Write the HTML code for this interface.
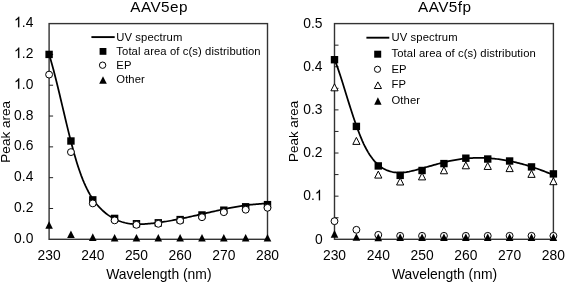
<!DOCTYPE html>
<html><head><meta charset="utf-8"><style>
html,body{margin:0;padding:0;background:#fff;width:565px;height:283px;overflow:hidden}
svg{display:block;will-change:transform}
text{fill:#000}
</style></head><body>
<svg width="565" height="283" viewBox="0 0 565 283">
<rect width="565" height="283" fill="#fff"/>
<rect x="49.1" y="23.6" width="218.40" height="215.70" fill="none" stroke="#333" stroke-width="1.4"/>
<line x1="49.1" y1="208.49" x2="53.1" y2="208.49" stroke="#222" stroke-width="1.0"/>
<line x1="49.1" y1="177.67" x2="53.1" y2="177.67" stroke="#222" stroke-width="1.0"/>
<line x1="49.1" y1="146.86" x2="53.1" y2="146.86" stroke="#222" stroke-width="1.0"/>
<line x1="49.1" y1="116.04" x2="53.1" y2="116.04" stroke="#222" stroke-width="1.0"/>
<line x1="49.1" y1="85.23" x2="53.1" y2="85.23" stroke="#222" stroke-width="1.0"/>
<line x1="49.1" y1="54.41" x2="53.1" y2="54.41" stroke="#222" stroke-width="1.0"/>
<text transform="translate(14.12,242.90) scale(0.95,1)" font-size="14.6" font-family="Liberation Sans, sans-serif">0.0</text>
<text transform="translate(14.12,212.09) scale(0.95,1)" font-size="14.6" font-family="Liberation Sans, sans-serif">0.2</text>
<text transform="translate(14.12,181.27) scale(0.95,1)" font-size="14.6" font-family="Liberation Sans, sans-serif">0.4</text>
<text transform="translate(14.12,150.46) scale(0.95,1)" font-size="14.6" font-family="Liberation Sans, sans-serif">0.6</text>
<text transform="translate(14.12,119.64) scale(0.95,1)" font-size="14.6" font-family="Liberation Sans, sans-serif">0.8</text>
<path transform="translate(14.12,88.83) scale(13.870,14.600)" d="M0.3726,0 L0.2847,0 L0.2847,-0.560 Q0.20,-0.49 0.1089,-0.454 L0.1089,-0.539 Q0.1826,-0.5737 0.2378,-0.623 Q0.293,-0.6724 0.3159,-0.7188 L0.3726,-0.7188 Z" fill="#000" stroke="#000" stroke-width="0.009"/>
<text transform="translate(21.83,88.83) scale(0.95,1)" font-size="14.6" font-family="Liberation Sans, sans-serif">.0</text>
<path transform="translate(14.12,58.01) scale(13.870,14.600)" d="M0.3726,0 L0.2847,0 L0.2847,-0.560 Q0.20,-0.49 0.1089,-0.454 L0.1089,-0.539 Q0.1826,-0.5737 0.2378,-0.623 Q0.293,-0.6724 0.3159,-0.7188 L0.3726,-0.7188 Z" fill="#000" stroke="#000" stroke-width="0.009"/>
<text transform="translate(21.83,58.01) scale(0.95,1)" font-size="14.6" font-family="Liberation Sans, sans-serif">.2</text>
<path transform="translate(14.12,27.20) scale(13.870,14.600)" d="M0.3726,0 L0.2847,0 L0.2847,-0.560 Q0.20,-0.49 0.1089,-0.454 L0.1089,-0.539 Q0.1826,-0.5737 0.2378,-0.623 Q0.293,-0.6724 0.3159,-0.7188 L0.3726,-0.7188 Z" fill="#000" stroke="#000" stroke-width="0.009"/>
<text transform="translate(21.83,27.20) scale(0.95,1)" font-size="14.6" font-family="Liberation Sans, sans-serif">.4</text>
<text transform="translate(49.10,259.6) scale(0.95,1)" text-anchor="middle" font-size="14.6" font-family="Liberation Sans, sans-serif">230</text>
<text transform="translate(92.78,259.6) scale(0.95,1)" text-anchor="middle" font-size="14.6" font-family="Liberation Sans, sans-serif">240</text>
<text transform="translate(136.46,259.6) scale(0.95,1)" text-anchor="middle" font-size="14.6" font-family="Liberation Sans, sans-serif">250</text>
<text transform="translate(180.14,259.6) scale(0.95,1)" text-anchor="middle" font-size="14.6" font-family="Liberation Sans, sans-serif">260</text>
<text transform="translate(223.82,259.6) scale(0.95,1)" text-anchor="middle" font-size="14.6" font-family="Liberation Sans, sans-serif">270</text>
<text transform="translate(267.50,259.6) scale(0.95,1)" text-anchor="middle" font-size="14.6" font-family="Liberation Sans, sans-serif">280</text>
<text x="158.90" y="278.7" text-anchor="middle" font-size="13.9" font-family="Liberation Sans, sans-serif">Wavelength (nm)</text>
<text transform="translate(9.9,131.8) rotate(-90)" text-anchor="middle" font-size="13.55" font-family="Liberation Sans, sans-serif">Peak area</text>
<text x="159.10" y="12.3" text-anchor="middle" font-size="15.3" letter-spacing="0.45" font-family="Liberation Sans, sans-serif">AAV5ep</text>
<path d="M49.10,54.33 L50.56,59.23 L52.02,64.41 L53.48,69.84 L54.94,75.47 L56.40,81.28 L57.87,87.23 L59.33,93.29 L60.79,99.43 L62.25,105.61 L63.71,111.80 L65.17,117.97 L66.63,124.08 L68.09,130.11 L69.55,136.01 L71.01,141.75 L72.47,147.31 L73.93,152.66 L75.40,157.78 L76.86,162.65 L78.32,167.25 L79.78,171.57 L81.24,175.61 L82.70,179.37 L84.16,182.87 L85.62,186.14 L87.08,189.17 L88.54,191.98 L90.00,194.58 L91.47,197.00 L92.93,199.24 L94.39,201.31 L95.85,203.23 L97.31,205.01 L98.77,206.66 L100.23,208.21 L101.69,209.65 L103.15,211.00 L104.61,212.28 L106.07,213.47 L107.53,214.59 L109.00,215.63 L110.46,216.59 L111.92,217.49 L113.38,218.32 L114.84,219.08 L116.30,219.78 L117.76,220.41 L119.22,220.99 L120.68,221.51 L122.14,221.97 L123.60,222.39 L125.07,222.75 L126.53,223.07 L127.99,223.34 L129.45,223.57 L130.91,223.76 L132.37,223.91 L133.83,224.02 L135.29,224.10 L136.75,224.15 L138.21,224.17 L139.67,224.16 L141.13,224.13 L142.60,224.08 L144.06,224.01 L145.52,223.92 L146.98,223.82 L148.44,223.70 L149.90,223.57 L151.36,223.43 L152.82,223.28 L154.28,223.12 L155.74,222.95 L157.20,222.77 L158.67,222.58 L160.13,222.38 L161.59,222.17 L163.05,221.96 L164.51,221.73 L165.97,221.50 L167.43,221.26 L168.89,221.01 L170.35,220.75 L171.81,220.49 L173.27,220.22 L174.73,219.95 L176.20,219.66 L177.66,219.38 L179.12,219.09 L180.58,218.79 L182.04,218.49 L183.50,218.18 L184.96,217.87 L186.42,217.56 L187.88,217.24 L189.34,216.92 L190.80,216.60 L192.27,216.27 L193.73,215.95 L195.19,215.62 L196.65,215.29 L198.11,214.95 L199.57,214.62 L201.03,214.29 L202.49,213.95 L203.95,213.62 L205.41,213.28 L206.87,212.95 L208.33,212.62 L209.80,212.28 L211.26,211.95 L212.72,211.63 L214.18,211.30 L215.64,210.98 L217.10,210.65 L218.56,210.34 L220.02,210.02 L221.48,209.71 L222.94,209.40 L224.40,209.10 L225.87,208.80 L227.33,208.51 L228.79,208.22 L230.25,207.94 L231.71,207.66 L233.17,207.39 L234.63,207.13 L236.09,206.87 L237.55,206.62 L239.01,206.37 L240.47,206.14 L241.93,205.91 L243.40,205.69 L244.86,205.48 L246.32,205.28 L247.78,205.08 L249.24,204.90 L250.70,204.72 L252.16,204.56 L253.62,204.41 L255.08,204.26 L256.54,204.13 L258.00,204.01 L259.47,203.90 L260.93,203.81 L262.39,203.72 L263.85,203.65 L265.31,203.59 L266.77,203.54" fill="none" stroke="#000" stroke-width="1.75"/>
<rect x="45.40" y="50.71" width="7.4" height="7.4" fill="#000"/>
<rect x="67.24" y="137.30" width="7.4" height="7.4" fill="#000"/>
<rect x="89.08" y="196.16" width="7.4" height="7.4" fill="#000"/>
<rect x="110.92" y="214.71" width="7.4" height="7.4" fill="#000"/>
<rect x="132.76" y="220.04" width="7.4" height="7.4" fill="#000"/>
<rect x="154.60" y="219.11" width="7.4" height="7.4" fill="#000"/>
<rect x="176.44" y="215.88" width="7.4" height="7.4" fill="#000"/>
<rect x="198.28" y="211.26" width="7.4" height="7.4" fill="#000"/>
<rect x="220.12" y="206.48" width="7.4" height="7.4" fill="#000"/>
<rect x="241.96" y="203.09" width="7.4" height="7.4" fill="#000"/>
<rect x="263.80" y="200.93" width="7.4" height="7.4" fill="#000"/>
<circle cx="49.10" cy="74.60" r="3.45" fill="#fff" stroke="#000" stroke-width="1.0"/>
<circle cx="70.94" cy="152.10" r="3.45" fill="#fff" stroke="#000" stroke-width="1.0"/>
<circle cx="92.78" cy="203.40" r="3.45" fill="#fff" stroke="#000" stroke-width="1.0"/>
<circle cx="114.62" cy="220.35" r="3.45" fill="#fff" stroke="#000" stroke-width="1.0"/>
<circle cx="136.46" cy="224.82" r="3.45" fill="#fff" stroke="#000" stroke-width="1.0"/>
<circle cx="158.30" cy="223.80" r="3.45" fill="#fff" stroke="#000" stroke-width="1.0"/>
<circle cx="180.14" cy="220.70" r="3.45" fill="#fff" stroke="#000" stroke-width="1.0"/>
<circle cx="201.98" cy="217.21" r="3.45" fill="#fff" stroke="#000" stroke-width="1.0"/>
<circle cx="223.82" cy="212.18" r="3.45" fill="#fff" stroke="#000" stroke-width="1.0"/>
<circle cx="245.66" cy="209.72" r="3.45" fill="#fff" stroke="#000" stroke-width="1.0"/>
<circle cx="267.50" cy="207.79" r="3.45" fill="#fff" stroke="#000" stroke-width="1.0"/>
<polygon points="49.10,221.17 52.90,228.77 45.30,228.77" fill="#000"/>
<polygon points="70.94,230.42 74.74,238.02 67.14,238.02" fill="#000"/>
<polygon points="92.78,233.34 96.58,240.94 88.98,240.94" fill="#000"/>
<polygon points="114.62,233.90 118.42,241.50 110.82,241.50" fill="#000"/>
<polygon points="136.46,233.90 140.26,241.50 132.66,241.50" fill="#000"/>
<polygon points="158.30,233.90 162.10,241.50 154.50,241.50" fill="#000"/>
<polygon points="180.14,233.90 183.94,241.50 176.34,241.50" fill="#000"/>
<polygon points="201.98,233.90 205.78,241.50 198.18,241.50" fill="#000"/>
<polygon points="223.82,233.90 227.62,241.50 220.02,241.50" fill="#000"/>
<polygon points="245.66,233.90 249.46,241.50 241.86,241.50" fill="#000"/>
<polygon points="267.50,233.90 271.30,241.50 263.70,241.50" fill="#000"/>
<line x1="91.4" y1="37.1" x2="114.7" y2="37.1" stroke="#000" stroke-width="1.9"/>
<text x="116.3" y="40.60" font-size="11.25" letter-spacing="0.1" font-family="Liberation Sans, sans-serif">UV spectrum</text>
<text x="116.3" y="54.70" font-size="11.25" letter-spacing="0.1" font-family="Liberation Sans, sans-serif">Total area of c(s) distribution</text>
<text x="116.3" y="68.80" font-size="11.25" letter-spacing="0.1" font-family="Liberation Sans, sans-serif">EP</text>
<text x="116.3" y="82.90" font-size="11.25" letter-spacing="0.1" font-family="Liberation Sans, sans-serif">Other</text>
<rect x="99.60" y="48.00" width="6.8" height="6.8" fill="#000"/>
<circle cx="102.60" cy="65.20" r="3.2" fill="#fff" stroke="#000" stroke-width="1.0"/>
<polygon points="103.00,76.20 106.80,83.80 99.20,83.80" fill="#000"/>
<rect x="334.5" y="23.6" width="218.90" height="215.70" fill="none" stroke="#333" stroke-width="1.4"/>
<line x1="334.5" y1="217.73" x2="338.5" y2="217.73" stroke="#222" stroke-width="1.0"/>
<line x1="334.5" y1="196.16" x2="338.5" y2="196.16" stroke="#222" stroke-width="1.0"/>
<line x1="334.5" y1="174.59" x2="338.5" y2="174.59" stroke="#222" stroke-width="1.0"/>
<line x1="334.5" y1="153.02" x2="338.5" y2="153.02" stroke="#222" stroke-width="1.0"/>
<line x1="334.5" y1="131.45" x2="338.5" y2="131.45" stroke="#222" stroke-width="1.0"/>
<line x1="334.5" y1="109.88" x2="338.5" y2="109.88" stroke="#222" stroke-width="1.0"/>
<line x1="334.5" y1="88.31" x2="338.5" y2="88.31" stroke="#222" stroke-width="1.0"/>
<line x1="334.5" y1="66.74" x2="338.5" y2="66.74" stroke="#222" stroke-width="1.0"/>
<line x1="334.5" y1="45.17" x2="338.5" y2="45.17" stroke="#222" stroke-width="1.0"/>
<text transform="translate(314.89,243.50) scale(0.95,1)" font-size="14.6" font-family="Liberation Sans, sans-serif">0</text>
<text transform="translate(303.32,200.36) scale(0.95,1)" font-size="14.6" font-family="Liberation Sans, sans-serif">0.</text>
<path transform="translate(314.89,200.36) scale(13.870,14.600)" d="M0.3726,0 L0.2847,0 L0.2847,-0.560 Q0.20,-0.49 0.1089,-0.454 L0.1089,-0.539 Q0.1826,-0.5737 0.2378,-0.623 Q0.293,-0.6724 0.3159,-0.7188 L0.3726,-0.7188 Z" fill="#000" stroke="#000" stroke-width="0.009"/>
<text transform="translate(303.32,157.22) scale(0.95,1)" font-size="14.6" font-family="Liberation Sans, sans-serif">0.2</text>
<text transform="translate(303.32,114.08) scale(0.95,1)" font-size="14.6" font-family="Liberation Sans, sans-serif">0.3</text>
<text transform="translate(303.32,70.94) scale(0.95,1)" font-size="14.6" font-family="Liberation Sans, sans-serif">0.4</text>
<text transform="translate(303.32,27.80) scale(0.95,1)" font-size="14.6" font-family="Liberation Sans, sans-serif">0.5</text>
<text transform="translate(334.50,259.6) scale(0.95,1)" text-anchor="middle" font-size="14.6" font-family="Liberation Sans, sans-serif">230</text>
<text transform="translate(378.28,259.6) scale(0.95,1)" text-anchor="middle" font-size="14.6" font-family="Liberation Sans, sans-serif">240</text>
<text transform="translate(422.06,259.6) scale(0.95,1)" text-anchor="middle" font-size="14.6" font-family="Liberation Sans, sans-serif">250</text>
<text transform="translate(465.84,259.6) scale(0.95,1)" text-anchor="middle" font-size="14.6" font-family="Liberation Sans, sans-serif">260</text>
<text transform="translate(509.62,259.6) scale(0.95,1)" text-anchor="middle" font-size="14.6" font-family="Liberation Sans, sans-serif">270</text>
<text transform="translate(553.40,259.6) scale(0.95,1)" text-anchor="middle" font-size="14.6" font-family="Liberation Sans, sans-serif">280</text>
<text x="444.55" y="278.7" text-anchor="middle" font-size="13.9" font-family="Liberation Sans, sans-serif">Wavelength (nm)</text>
<text transform="translate(297.6,131.4) rotate(-90)" text-anchor="middle" font-size="13.45" font-family="Liberation Sans, sans-serif">Peak area</text>
<text x="444.75" y="12.3" text-anchor="middle" font-size="15.3" letter-spacing="0.45" font-family="Liberation Sans, sans-serif">AAV5fp</text>
<path d="M334.50,59.38 L335.96,63.13 L337.43,67.14 L338.89,71.36 L340.36,75.76 L341.82,80.30 L343.29,84.95 L344.75,89.66 L346.21,94.41 L347.68,99.16 L349.14,103.87 L350.61,108.50 L352.07,113.04 L353.53,117.47 L355.00,121.76 L356.46,125.92 L357.93,129.92 L359.39,133.74 L360.86,137.38 L362.32,140.82 L363.78,144.04 L365.25,147.03 L366.71,149.80 L368.18,152.35 L369.64,154.70 L371.11,156.85 L372.57,158.82 L374.03,160.61 L375.50,162.23 L376.96,163.70 L378.43,165.02 L379.89,166.19 L381.35,167.25 L382.82,168.18 L384.28,169.00 L385.75,169.72 L387.21,170.35 L388.68,170.89 L390.14,171.35 L391.60,171.74 L393.07,172.04 L394.53,172.28 L396.00,172.45 L397.46,172.55 L398.93,172.60 L400.39,172.59 L401.85,172.52 L403.32,172.41 L404.78,172.26 L406.25,172.06 L407.71,171.82 L409.17,171.56 L410.64,171.26 L412.10,170.94 L413.57,170.59 L415.03,170.23 L416.50,169.86 L417.96,169.47 L419.42,169.07 L420.89,168.67 L422.35,168.27 L423.82,167.86 L425.28,167.45 L426.75,167.03 L428.21,166.62 L429.67,166.20 L431.14,165.79 L432.60,165.37 L434.07,164.96 L435.53,164.55 L436.99,164.15 L438.46,163.75 L439.92,163.36 L441.39,162.98 L442.85,162.61 L444.32,162.24 L445.78,161.89 L447.24,161.54 L448.71,161.21 L450.17,160.90 L451.64,160.59 L453.10,160.30 L454.57,160.03 L456.03,159.78 L457.49,159.54 L458.96,159.32 L460.42,159.11 L461.89,158.92 L463.35,158.75 L464.82,158.59 L466.28,158.45 L467.74,158.32 L469.21,158.21 L470.67,158.12 L472.14,158.04 L473.60,157.98 L475.06,157.93 L476.53,157.90 L477.99,157.88 L479.46,157.88 L480.92,157.89 L482.39,157.92 L483.85,157.97 L485.31,158.02 L486.78,158.09 L488.24,158.18 L489.71,158.28 L491.17,158.40 L492.64,158.53 L494.10,158.67 L495.56,158.83 L497.03,159.00 L498.49,159.18 L499.96,159.38 L501.42,159.59 L502.88,159.82 L504.35,160.06 L505.81,160.31 L507.28,160.57 L508.74,160.85 L510.21,161.14 L511.67,161.45 L513.13,161.76 L514.60,162.09 L516.06,162.43 L517.53,162.79 L518.99,163.16 L520.46,163.53 L521.92,163.93 L523.38,164.33 L524.85,164.74 L526.31,165.17 L527.78,165.61 L529.24,166.06 L530.70,166.52 L532.17,166.99 L533.63,167.48 L535.10,167.97 L536.56,168.48 L538.03,169.00 L539.49,169.53 L540.95,170.07 L542.42,170.62 L543.88,171.18 L545.35,171.75 L546.81,172.33 L548.28,172.92 L549.74,173.53 L551.20,174.14 L552.67,174.76" fill="none" stroke="#000" stroke-width="1.75"/>
<rect x="330.80" y="56.01" width="7.4" height="7.4" fill="#000"/>
<rect x="352.69" y="122.70" width="7.4" height="7.4" fill="#000"/>
<rect x="374.58" y="162.22" width="7.4" height="7.4" fill="#000"/>
<rect x="396.47" y="171.67" width="7.4" height="7.4" fill="#000"/>
<rect x="418.36" y="166.79" width="7.4" height="7.4" fill="#000"/>
<rect x="440.25" y="159.89" width="7.4" height="7.4" fill="#000"/>
<rect x="462.14" y="154.50" width="7.4" height="7.4" fill="#000"/>
<rect x="484.03" y="155.32" width="7.4" height="7.4" fill="#000"/>
<rect x="505.92" y="157.30" width="7.4" height="7.4" fill="#000"/>
<rect x="527.81" y="163.21" width="7.4" height="7.4" fill="#000"/>
<rect x="549.70" y="170.20" width="7.4" height="7.4" fill="#000"/>
<circle cx="334.50" cy="221.18" r="3.45" fill="#fff" stroke="#000" stroke-width="1.0"/>
<circle cx="356.39" cy="229.81" r="3.45" fill="#fff" stroke="#000" stroke-width="1.0"/>
<circle cx="378.28" cy="234.86" r="3.45" fill="#fff" stroke="#000" stroke-width="1.0"/>
<circle cx="400.17" cy="235.85" r="3.45" fill="#fff" stroke="#000" stroke-width="1.0"/>
<circle cx="422.06" cy="235.85" r="3.45" fill="#fff" stroke="#000" stroke-width="1.0"/>
<circle cx="443.95" cy="235.85" r="3.45" fill="#fff" stroke="#000" stroke-width="1.0"/>
<circle cx="465.84" cy="235.85" r="3.45" fill="#fff" stroke="#000" stroke-width="1.0"/>
<circle cx="487.73" cy="235.85" r="3.45" fill="#fff" stroke="#000" stroke-width="1.0"/>
<circle cx="509.62" cy="235.85" r="3.45" fill="#fff" stroke="#000" stroke-width="1.0"/>
<circle cx="531.51" cy="235.85" r="3.45" fill="#fff" stroke="#000" stroke-width="1.0"/>
<circle cx="553.40" cy="235.85" r="3.45" fill="#fff" stroke="#000" stroke-width="1.0"/>
<polygon points="334.50,83.82 338.10,90.82 330.90,90.82" fill="#fff" stroke="#000" stroke-width="1.0"/>
<polygon points="356.39,137.40 359.99,144.40 352.79,144.40" fill="#fff" stroke="#000" stroke-width="1.0"/>
<polygon points="378.28,171.09 381.88,178.09 374.68,178.09" fill="#fff" stroke="#000" stroke-width="1.0"/>
<polygon points="400.17,177.99 403.77,184.99 396.57,184.99" fill="#fff" stroke="#000" stroke-width="1.0"/>
<polygon points="422.06,172.90 425.66,179.90 418.46,179.90" fill="#fff" stroke="#000" stroke-width="1.0"/>
<polygon points="443.95,166.78 447.55,173.78 440.35,173.78" fill="#fff" stroke="#000" stroke-width="1.0"/>
<polygon points="465.84,161.81 469.44,168.81 462.24,168.81" fill="#fff" stroke="#000" stroke-width="1.0"/>
<polygon points="487.73,162.46 491.33,169.46 484.13,169.46" fill="#fff" stroke="#000" stroke-width="1.0"/>
<polygon points="509.62,164.62 513.22,171.62 506.02,171.62" fill="#fff" stroke="#000" stroke-width="1.0"/>
<polygon points="531.51,170.36 535.11,177.36 527.91,177.36" fill="#fff" stroke="#000" stroke-width="1.0"/>
<polygon points="553.40,177.69 557.00,184.69 549.80,184.69" fill="#fff" stroke="#000" stroke-width="1.0"/>
<polygon points="334.50,230.11 338.30,237.71 330.70,237.71" fill="#000"/>
<polygon points="356.39,233.13 360.19,240.73 352.59,240.73" fill="#000"/>
<polygon points="378.28,233.56 382.08,241.16 374.48,241.16" fill="#000"/>
<polygon points="400.17,233.39 403.97,240.99 396.37,240.99" fill="#000"/>
<polygon points="422.06,233.39 425.86,240.99 418.26,240.99" fill="#000"/>
<polygon points="443.95,233.39 447.75,240.99 440.15,240.99" fill="#000"/>
<polygon points="465.84,233.39 469.64,240.99 462.04,240.99" fill="#000"/>
<polygon points="487.73,233.39 491.53,240.99 483.93,240.99" fill="#000"/>
<polygon points="509.62,233.39 513.42,240.99 505.82,240.99" fill="#000"/>
<polygon points="531.51,233.39 535.31,240.99 527.71,240.99" fill="#000"/>
<polygon points="553.40,233.39 557.20,240.99 549.60,240.99" fill="#000"/>
<line x1="366.4" y1="37.7" x2="389.3" y2="37.7" stroke="#000" stroke-width="1.9"/>
<text x="391.5" y="41.20" font-size="11.25" letter-spacing="0.1" font-family="Liberation Sans, sans-serif">UV spectrum</text>
<text x="391.5" y="56.90" font-size="11.25" letter-spacing="0.1" font-family="Liberation Sans, sans-serif">Total area of c(s) distribution</text>
<text x="391.5" y="72.60" font-size="11.25" letter-spacing="0.1" font-family="Liberation Sans, sans-serif">EP</text>
<text x="391.5" y="88.30" font-size="11.25" letter-spacing="0.1" font-family="Liberation Sans, sans-serif">FP</text>
<text x="391.5" y="104.00" font-size="11.25" letter-spacing="0.1" font-family="Liberation Sans, sans-serif">Other</text>
<rect x="374.20" y="50.70" width="7.0" height="7.0" fill="#000"/>
<circle cx="377.50" cy="69.30" r="3.1" fill="#fff" stroke="#000" stroke-width="1.0"/>
<polygon points="377.90,81.90 381.50,88.50 374.30,88.50" fill="#fff" stroke="#000" stroke-width="1.0"/>
<polygon points="377.90,97.30 381.60,104.70 374.20,104.70" fill="#000"/>
</svg>
</body></html>
